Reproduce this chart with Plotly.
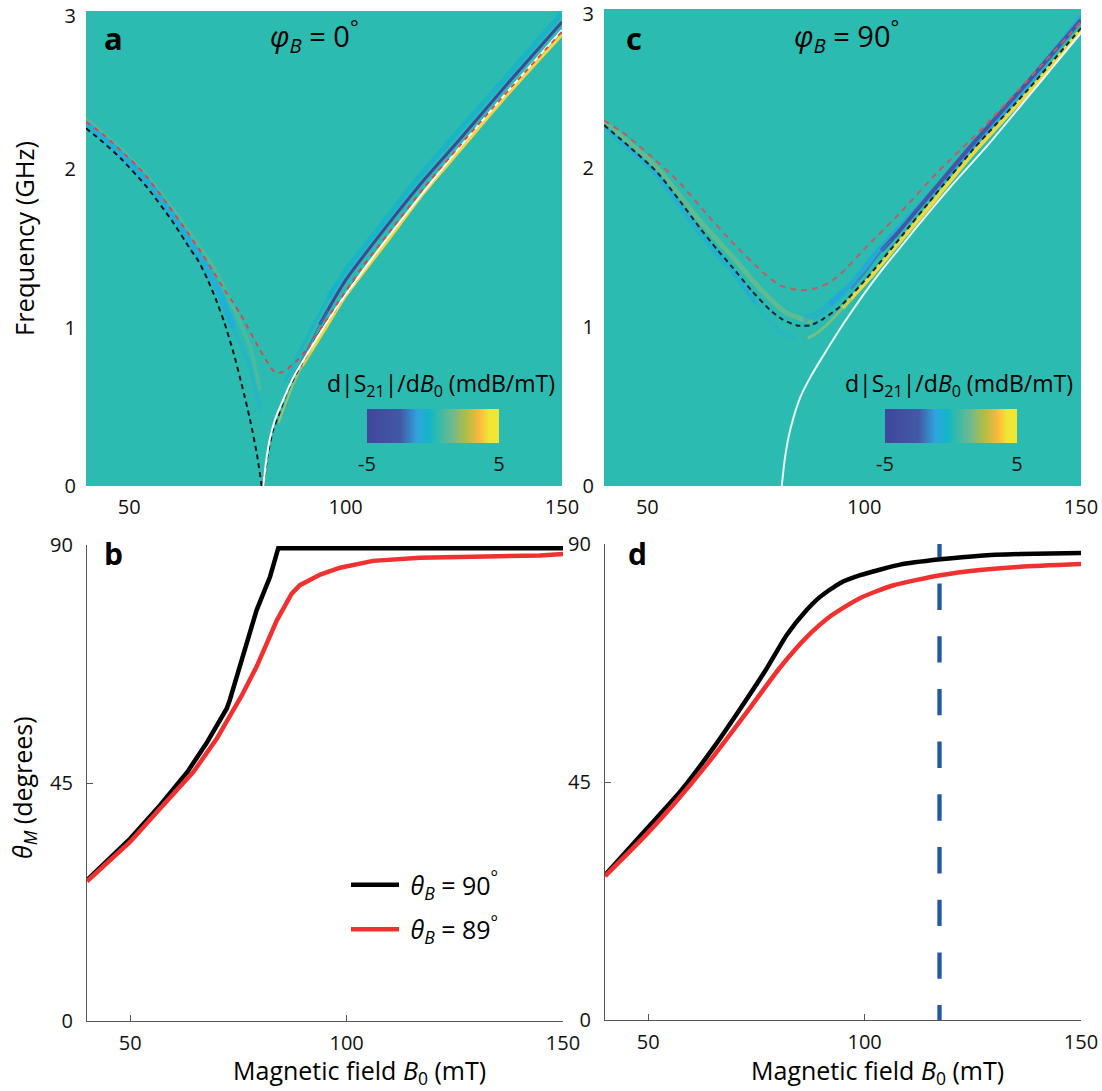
import numpy as np
import plotly.graph_objects as go

W, H = 1102, 1091

# ---------- data ----------
# panel a (phi_B = 0)
a_black_left_x = [40, 44, 48, 54, 60, 64, 66, 68, 70, 72, 74, 76, 77.9, 79.5, 80.6]
a_black_left_f = [2.26, 2.17, 2.07, 1.89, 1.67, 1.50, 1.42, 1.31, 1.18, 1.03, 0.85, 0.64, 0.42, 0.2, 0.0]
a_black_right_x = [81.0, 82, 83.2, 84.8, 86.4, 89.4, 94, 98, 103]
a_black_right_f = [0.0, 0.2, 0.35, 0.47, 0.59, 0.75, 0.97, 1.13, 1.33]
a_red_x = [40, 44, 48, 53.2, 58, 63, 67, 69.3, 72, 75.6, 80.2, 83.6, 85.5, 89.4, 94, 98, 103.5, 110, 118, 126.4, 138, 150]
a_red_f = [2.30, 2.22, 2.12, 1.98, 1.81, 1.62, 1.46, 1.36, 1.24, 1.09, 0.86, 0.72, 0.72, 0.81, 0.985, 1.15, 1.37, 1.60, 1.88, 2.15, 2.51, 2.87]
a_white_x = [81, 81.6, 82.5, 83.7, 85.5, 88, 91.7, 97, 104, 112, 126.4, 138, 150]
a_white_f = [0.0, 0.15, 0.30, 0.42, 0.54, 0.69, 0.86, 1.09, 1.36, 1.65, 2.14, 2.51, 2.88]
a_blue_x = [40, 48, 54, 60, 66, 70.2, 74]
a_blue_f = [2.29, 2.10, 1.93, 1.71, 1.46, 1.26, 1.00]
a_blue_tail_x = [72, 74, 77.9, 80.2]
a_blue_tail_f = [1.14, 1.00, 0.75, 0.48]
a_green_x = [40, 48, 54, 60, 66, 70, 74, 78, 80.2]
a_green_f = [2.32, 2.13, 1.96, 1.75, 1.52, 1.36, 1.13, 0.87, 0.60]
a_cyan_x = [96, 100, 108, 116, 126, 138, 150]
a_cyan_f = [1.19, 1.36, 1.64, 1.92, 2.24, 2.61, 2.99]
a_cyan_tail_x = [86, 90, 96, 98]
a_cyan_tail_f = [0.66, 0.88, 1.19, 1.28]
a_purple_x = [94, 100, 110.9, 118, 126.4, 138, 150]
a_purple_f = [1.02, 1.30, 1.69, 1.93, 2.19, 2.56, 2.93]
a_purple_tail_x = [87, 90, 94, 96]
a_purple_tail_f = [0.65, 0.80, 1.02, 1.11]
a_yellow_x = [90, 95, 100, 110, 118, 126.4, 138, 150]
a_yellow_f = [0.76, 0.98, 1.20, 1.56, 1.85, 2.12, 2.49, 2.85]
a_yellow_tail_x = [84.5, 88, 90, 92]
a_yellow_tail_f = [0.40, 0.65, 0.76, 0.85]

# panel c (phi_B = 90)
c_black_x = [40, 46, 52.2, 57, 62.2, 66, 69.8, 74, 78.3, 81, 84.5, 87.5, 90.5, 94.5, 100.7, 108, 116, 125.2, 138, 150]
c_black_f = [2.27, 2.13, 1.975, 1.81, 1.62, 1.49, 1.37, 1.23, 1.107, 1.05, 1.01, 1.01, 1.05, 1.13, 1.31, 1.55, 1.82, 2.12, 2.50, 2.88]
c_red_x = [40, 45, 50.6, 57, 62.9, 70, 76.8, 80.7, 85.3, 89, 92, 95.2, 100, 108, 116.8, 128, 140, 150]
c_red_f = [2.30, 2.21, 2.08, 1.92, 1.735, 1.52, 1.34, 1.26, 1.23, 1.245, 1.28, 1.35, 1.49, 1.71, 1.97, 2.27, 2.62, 2.92]
c_white_x = [81, 81.6, 82.5, 83.7, 85.3, 87.5, 89.9, 95.2, 100, 103.7, 108, 112, 120, 129, 140, 150]
c_white_f = [0.0, 0.15, 0.30, 0.43, 0.56, 0.68, 0.79, 1.02, 1.21, 1.345, 1.49, 1.625, 1.885, 2.16, 2.52, 2.85]
c_blue_x = [40, 52, 62, 70, 75]
c_blue_f = [2.26, 1.96, 1.59, 1.33, 1.15]
c_blue_tail_x = [73, 75, 78, 80.6, 84]
c_blue_tail_f = [1.22, 1.15, 1.04, 0.97, 0.93]
c_green_x = [40, 52, 62, 70, 76, 82, 88]
c_green_f = [2.29, 2.01, 1.67, 1.43, 1.24, 1.09, 1.03]
c_wide_x = [92, 98, 102, 110, 120, 130, 140, 150]
c_wide_f = [1.14, 1.30, 1.44, 1.68, 1.98, 2.28, 2.60, 2.95]
c_wide_tail_x = [86, 89, 92, 95]
c_wide_tail_f = [1.05, 1.08, 1.14, 1.22]
c_purple_x = [104, 108, 116, 125, 138, 150]
c_purple_f = [1.48, 1.60, 1.86, 2.15, 2.55, 2.93]
c_purple_tail_x = [97, 101, 104, 106]
c_purple_tail_f = [1.24, 1.37, 1.48, 1.54]
c_yellow_x = [95, 101, 108, 116, 125, 138, 150]
c_yellow_f = [1.12, 1.30, 1.53, 1.79, 2.09, 2.48, 2.87]
c_yellow_tail_x = [87, 89, 92, 95, 97]
c_yellow_tail_f = [0.93, 0.96, 1.03, 1.12, 1.18]

# panel b
b_black_x = [40, 50, 56.9, 63.2, 67.6, 72.3, 73.0, 75.8, 79.2, 82.3, 83.4, 84.2, 100, 150]
b_black_t = [26.65, 34.5, 40.8, 47.1, 52.5, 59.1, 60.7, 68.6, 77.7, 84.0, 87.0, 89.4, 89.4, 89.4]
b_red_x = [40, 50, 56.9, 64.6, 70, 75.8, 79.2, 83.9, 87.3, 89.2, 93.9, 98.5, 106.1, 117, 129.2, 144.7, 150]
b_red_t = [26.4, 33.9, 40.2, 47.1, 53.4, 61.6, 67, 75.8, 80.8, 82.4, 84.4, 85.7, 87.0, 87.6, 87.8, 88.0, 88.3]

# panel d
d_black_x = [40, 49.7, 57.4, 65, 71.3, 77.4, 82, 86.6, 89.7, 94.3, 99, 108.2, 117.5, 126.7, 136, 150]
d_black_t = [27.4, 36.2, 43.2, 51.4, 58.9, 66.5, 72.8, 77.5, 80, 82.6, 84.1, 86.1, 87.1, 87.8, 88.1, 88.3]
d_red_x = [40, 49.7, 55.8, 65, 72.7, 80.4, 86.6, 92, 99, 106.7, 117.5, 126.7, 136, 150]
d_red_t = [27.2, 35.2, 40.7, 49.8, 58.1, 66.6, 72.4, 76.3, 79.8, 82.2, 84.1, 85.1, 85.7, 86.2]
d_marker_x = [117.3, 117.3]
d_marker_t = [92.5, 0]

# labels
freq_ticks = [0, 1, 2, 2.97]
freq_labels = ["0", "1", "2", "3"]
field_ticks = [50, 100, 150]
angle_ticks = [0, 45, 90]
scale_values = [-5, -4.5, -4, -3.5, -3, -2.5, -2, -1.5, -1, -0.5, 0, 0.5, 1, 1.5, 2, 2.5, 3, 3.5, 4, 4.5, 5]
scale_ticks = [-5, 5]

# ---------- styling ----------
FONT = "Open Sans"
TEAL = "#2BBBB1"
INK = "#111111"
SCALE = [[0, "#3F479B"], [0.25, "#4259A6"], [0.38, "#2FA5DC"], [0.47, "#11B6C8"], [0.52, "#2BBBB0"],
         [0.65, "#74B98A"], [0.75, "#B2BD45"], [0.85, "#FDB73D"], [0.92, "#F1E634"], [1, "#F1E634"]]


def dx(l, r):
    return [l / W, r / W]


def dy(t, b):
    return [1 - b / H, 1 - t / H]


fig = go.Figure()


def line(xa, ya, x, y, color, width, dash=None, shape="spline", op=1, name=None, legend=False):
    fig.add_trace(go.Scatter(x=x, y=y, xaxis=xa, yaxis=ya, mode="lines", name=name or "",
                             showlegend=legend, opacity=op, hoverinfo="skip",
                             legendgroup=name if legend else None,
                             line=dict(color=color, width=width, dash=dash, shape=shape, smoothing=0.6)))


# panel a bands and curves
line("x", "y", a_green_x, a_green_f, "#8DBB7C", 4, op=0.3)
line("x", "y", a_blue_x, a_blue_f, "#1FAEDC", 6, op=0.9)
line("x", "y", a_blue_tail_x, a_blue_tail_f, "#1FAEDC", 4, op=0.4)
line("x", "y", a_cyan_x, a_cyan_f, "#12B2D2", 5, op=0.7)
line("x", "y", a_cyan_tail_x, a_cyan_tail_f, "#12B2D2", 3, op=0.6)
line("x", "y", a_purple_x, a_purple_f, "#3F479B", 3)
line("x", "y", a_purple_tail_x, a_purple_tail_f, "#3F6FB5", 1.5, op=0.8)
line("x", "y", a_yellow_x, a_yellow_f, "#F0D83A", 3)
line("x", "y", a_yellow_tail_x, a_yellow_tail_f, "#C8C84A", 2, op=0.7)
line("x", "y", a_black_left_x, a_black_left_f, "#10141C", 2, dash="5px,4px")
line("x", "y", a_black_right_x, a_black_right_f, "#10141C", 2, dash="5px,4px")
line("x", "y", a_white_x, a_white_f, "#FFFFFF", 2)
line("x", "y", a_red_x, a_red_f, "#E5413F", 1.8, dash="5px,5px")

# panel c bands and curves
line("x2", "y2", c_green_x, c_green_f, "#9CBE6C", 5, op=0.45)
line("x2", "y2", c_blue_x, c_blue_f, "#1FAEDC", 4, op=0.7)
line("x2", "y2", c_blue_tail_x, c_blue_tail_f, "#1FAEDC", 4, op=0.3)
line("x2", "y2", c_wide_x, c_wide_f, "#1FA8E0", 5, op=0.8)
line("x2", "y2", c_wide_tail_x, c_wide_tail_f, "#1FA8E0", 7, op=0.4)
line("x2", "y2", c_purple_x, c_purple_f, "#4555A8", 4)
line("x2", "y2", c_purple_tail_x, c_purple_tail_f, "#3F79BF", 2, op=0.8)
line("x2", "y2", c_yellow_x, c_yellow_f, "#EAD93F", 4)
line("x2", "y2", c_yellow_tail_x, c_yellow_tail_f, "#A8C45C", 3, op=0.6)
line("x2", "y2", c_white_x, c_white_f, "#EAF8F6", 2)
line("x2", "y2", c_black_x, c_black_f, "#14213A", 2, dash="5px,4px")
line("x2", "y2", c_red_x, c_red_f, "#C25A68", 2, dash="6px,5px")

# panel b
line("x3", "y3", b_black_x, b_black_t, "#000000", 4.5, shape="linear",
     name="\u00a0<i>θ</i><sub><i>B</i></sub> = 90<sup>°</sup>", legend=True)
line("x3", "y3", b_red_x, b_red_t, "#F0312F", 4.5, shape="linear",
     name="\u00a0<i>θ</i><sub><i>B</i></sub> = 89<sup>°</sup>", legend=True)

# panel d
line("x4", "y4", d_marker_x, d_marker_t, "#2457A8", 4.3, dash="26.4px,26.3px", shape="linear")
line("x4", "y4", d_black_x, d_black_t, "#000000", 4.5)
line("x4", "y4", d_red_x, d_red_t, "#F0312F", 4.5)

# colour scales
for xa, ya in (("x5", "y5"), ("x6", "y6")):
    fig.add_trace(go.Heatmap(x=scale_values, y=[0, 1], z=[scale_values, scale_values], xaxis=xa, yaxis=ya,
                             colorscale=SCALE, zmin=-5, zmax=5, showscale=False, zsmooth="best", hoverinfo="skip"))

tick_font = dict(family=FONT, size=20, color=INK)


def heat_x(dom, anchor):
    return dict(domain=dom, anchor=anchor, range=[40, 150], tickvals=field_ticks, showgrid=False, zeroline=False,
                showline=False, ticks="", tickfont=tick_font, ticklabelstandoff=7, automargin=False, ticklabeloverflow="allow")


def heat_y(dom, anchor):
    return dict(domain=dom, anchor=anchor, range=[0, 3], tickvals=freq_ticks, ticktext=freq_labels, showgrid=False,
                zeroline=False, showline=False, ticks="", tickfont=tick_font, ticklabelstandoff=9, automargin=False,
                ticklabeloverflow="allow")


def theta_x(dom, anchor):
    return dict(domain=dom, anchor=anchor, range=[40, 150], tickvals=field_ticks, showgrid=False, zeroline=False,
                showline=True, linecolor="#555555", linewidth=1.3, ticks="inside", ticklen=6, tickcolor="#555555",
                tickfont=tick_font, ticklabelstandoff=4, automargin=False, ticklabeloverflow="allow")


def theta_y(dom, anchor):
    return dict(domain=dom, anchor=anchor, range=[0, 90], tickvals=angle_ticks, showgrid=False, zeroline=False,
                showline=True, linecolor="#555555", linewidth=1.3, ticks="inside", ticklen=6, tickcolor="#555555",
                tickfont=tick_font, ticklabelstandoff=9, automargin=False, ticklabeloverflow="allow")


def scale_x(dom, anchor):
    return dict(domain=dom, anchor=anchor, range=[-5, 5], tickvals=scale_ticks, ticktext=["-5", "5"], showgrid=False,
                zeroline=False, showline=False, ticks="", tickfont=dict(family=FONT, size=20, color=INK),
                ticklabelstandoff=7, automargin=False)


def scale_y(dom, anchor):
    return dict(domain=dom, anchor=anchor, range=[0, 1], visible=False, showgrid=False, zeroline=False, automargin=False)


def note(px, py, text, size, bold=False, angle=0):
    return dict(x=px / W, y=1 - py / H, xref="paper", yref="paper", text=f"<b>{text}</b>" if bold else text,
                showarrow=False, xanchor="center", yanchor="middle", textangle=angle,
                font=dict(family=FONT, size=size, color="#000000"))


SCALE_LABEL = "d|S<sub>21</sub>|/d<i>B</i><sub>0</sub> (mdB/mT)"
FIELD_LABEL = "Magnetic field <i>B</i><sub>0</sub> (mT)"

fig.update_layout(
    width=W, height=H, margin=dict(l=0, r=0, t=0, b=0, autoexpand=False), autosize=False,
    paper_bgcolor="#FFFFFF", plot_bgcolor="#FFFFFF", font=dict(family=FONT, color=INK), showlegend=True,
    legend=dict(x=346 / W, y=1 - 862 / H, xanchor="left", yanchor="top", bgcolor="rgba(0,0,0,0)",
                font=dict(family=FONT, size=25, color="#000000"), itemwidth=48, tracegroupgap=9),
    xaxis=heat_x(dx(86, 562), "y"), yaxis=heat_y(dy(11, 486), "x"),
    xaxis2=heat_x(dx(604, 1081), "y2"), yaxis2=heat_y(dy(9, 486), "x2"),
    xaxis3=theta_x(dx(87, 563), "y3"), yaxis3=theta_y(dy(545, 1021), "x3"),
    xaxis4=theta_x(dx(605, 1081), "y4"), yaxis4=theta_y(dy(544, 1020), "x4"),
    xaxis5=scale_x(dx(367, 499), "y5"), yaxis5=scale_y(dy(409, 443), "x5"),
    xaxis6=scale_x(dx(885, 1017), "y6"), yaxis6=scale_y(dy(409, 443), "x6"),
    annotations=[
        note(113, 38, "a", 31, True), note(634, 38, "c", 31, True),
        note(113, 553, "b", 30, True), note(637, 553, "d", 30, True),
        note(314, 36, "<i>φ</i><sub><i>B</i></sub> = 0<sup>°</sup>", 29),
        note(846, 36, "<i>φ</i><sub><i>B</i></sub> = 90<sup>°</sup>", 29),
        note(441, 384, SCALE_LABEL, 23), note(959, 384, SCALE_LABEL, 23),
        note(359, 1071, FIELD_LABEL, 25), note(877, 1071, FIELD_LABEL, 25),
        note(24, 239, "Frequency (GHz)", 25.5, angle=-90),
        note(23, 788, "<i>θ</i><sub><i>M</i></sub> (degrees)", 25, angle=-90),
    ],
    shapes=[
        dict(type="rect", xref="x domain", yref="y domain", x0=0, x1=1, y0=0, y1=1, fillcolor=TEAL, line_width=0, layer="below"),
        dict(type="rect", xref="x2 domain", yref="y2 domain", x0=0, x1=1, y0=0, y1=1, fillcolor=TEAL, line_width=0, layer="below"),
    ],
)

fig.write_html("out.html", config=dict(displayModeBar=False),
               post_script="document.body.style.margin='0';document.body.style.overflow='hidden';")
